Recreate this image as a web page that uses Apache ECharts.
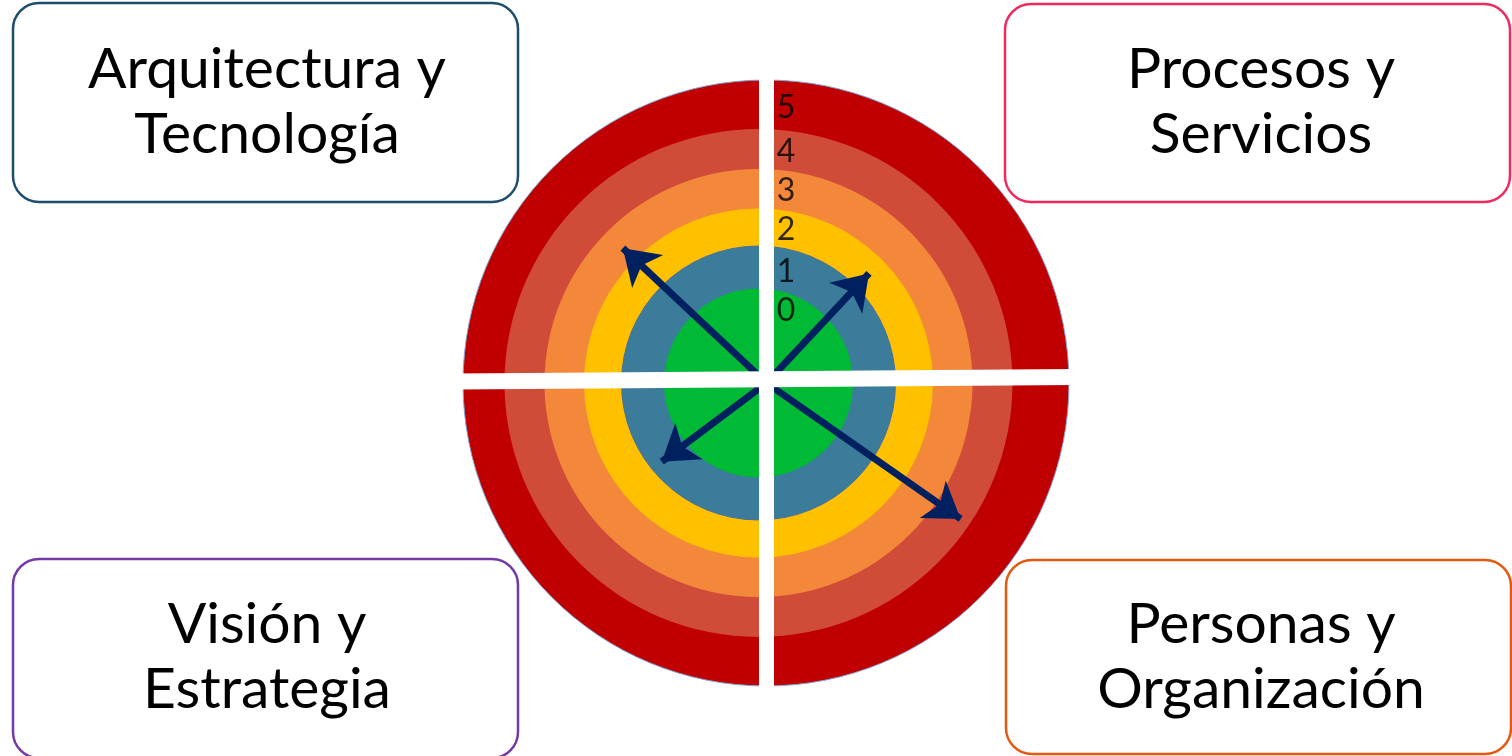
<!DOCTYPE html>
<html>
<head>
<meta charset="utf-8">
<script src="https://cdn.jsdelivr.net/npm/echarts@6/dist/echarts.min.js"></script>
<style>
  html, body { margin: 0; padding: 0; background: #ffffff; }
  #chart { width: 1512px; height: 756px; }
</style>
</head>
<body>
<div id="chart"></div>
<script>
// ---------------- DATA ----------------
const levels = ['0', '1', '2', '3', '4', '5'];
const dimensions = ['Arquitectura y\nTecnología', 'Procesos y\nServicios', 'Visión y\nEstrategia', 'Personas y\nOrganización'];
// arrow direction (degrees, counter-clockwise from east) and reach (radial units, outer rim = 303)
const arrowAngles = [136.8, 46.9, 216.9, 325.0];
const arrowReach = [197, 150, 131, 237];
// radial position of each level tick label (radial units)
const levelTickRadii = [72, 111, 153, 192, 231, 275];

// ---------------- LAYOUT / STYLE ----------------
const R = 303;                       // outer radius in px == radial units
const cx = 766.5, cy = 383;          // arrow / cross centre
const innerCenter = [758.5, 383];    // concentric rings centre
const outerCenter = [766, 383];      // outer red disc centre
const ringOuterRadii = [94.5, 137, 174.5, 214, 254, 303];
const ringColors = ['#00BA35', '#3A7C99', '#FFC000', '#F3883A', '#D14C38', '#C00000'];
const arrowColor = '#002060';
const headSize = 34;
const gapLeftY = 1.5, gapRightY = 6;  // horizontal gap (radial units above centre) at the rim

const boxes = [
  { x: 13, y: 3, w: 505, h: 199, color: '#1D4E6E', tx: 267, ty: 102 },
  { x: 1005, y: 4, w: 505, h: 198, color: '#EE2A5E', tx: 1261, ty: 102 },
  { x: 13, y: 559, w: 505, h: 199, color: '#7439A6', tx: 267, ty: 657 },
  { x: 1006, y: 560, w: 505, h: 194, color: '#E5580F', tx: 1261, ty: 657 }
];

// ---------------- BUILD ----------------
const series = [];
for (let i = levels.length - 1; i >= 0; i--) {
  series.push({
    type: 'pie',
    silent: true,
    animation: false,
    center: i === levels.length - 1 ? outerCenter : innerCenter,
    radius: [0, ringOuterRadii[i]],
    label: { show: false },
    labelLine: { show: false },
    emphasis: { disabled: true },
    itemStyle: {
      color: ringColors[i],
      borderWidth: (i === 5 || i === 1) ? 1 : 0,
      borderColor: i === 5 ? '#7FA8D8' : '#4A6E9E'
    },
    data: [{ name: levels[i], value: 1 }]
  });
}

const rad = d => d * Math.PI / 180;
series.push({
  type: 'lines',
  coordinateSystem: 'cartesian2d',
  silent: true,
  animation: false,
  z: 5,
  symbol: ['none', 'arrow'],
  symbolSize: headSize,
  lineStyle: { color: arrowColor, width: 7, opacity: 1, curveness: 0 },
  data: dimensions.map((name, i) => {
    const a = rad(arrowAngles[i]);
    const r = arrowReach[i];
    return { name: name, coords: [[0, 0], [r * Math.cos(a), r * Math.sin(a)]] };
  })
});

// white quadrant separators
const ext = R + 8;
const slope = (gapRightY - gapLeftY) / (2 * R);
const midY = (gapRightY + gapLeftY) / 2;
series.push({
  type: 'lines',
  coordinateSystem: 'cartesian2d',
  silent: true,
  animation: false,
  z: 10,
  symbol: ['none', 'none'],
  lineStyle: { color: '#ffffff', width: 15, opacity: 1 },
  data: [
    { coords: [[0, -ext], [0, ext]] },
    { coords: [[-ext, midY - slope * ext], [ext, midY + slope * ext]], lineStyle: { width: 16 } }
  ]
});

// level labels
series.push({
  type: 'scatter',
  silent: true,
  animation: false,
  z: 20,
  symbolSize: 1,
  itemStyle: { color: 'rgba(0,0,0,0)' },
  label: {
    show: true,
    position: 'inside',
    formatter: p => levels[p.dataIndex],
    color: '#000000',
    fontFamily: 'Lato',
    fontSize: 32
  },
  data: levels.map((l, i) => [19.5, levelTickRadii[i]])
});

const graphic = [];
boxes.forEach((b, i) => {
  graphic.push({
    type: 'rect',
    shape: { x: b.x, y: b.y, width: b.w, height: b.h, r: 26 },
    style: { fill: '#ffffff', stroke: b.color, lineWidth: 2.5 },
    silent: true
  });
  graphic.push({
    type: 'text',
    x: b.tx,
    y: b.ty,
    silent: true,
    style: {
      text: dimensions[i],
      fill: '#000000',
      font: '57px Lato',
      fontSize: 57,
      fontFamily: 'Lato',
      lineHeight: 65,
      align: 'center',
      verticalAlign: 'middle',
      textAlign: 'center',
      textVerticalAlign: 'middle'
    }
  });
});

const chart = echarts.init(document.getElementById('chart'), null, { renderer: 'canvas' });
chart.setOption({
  backgroundColor: '#ffffff',
  animation: false,
  grid: { left: cx - R, top: cy - R, width: 2 * R, height: 2 * R, containLabel: false },
  xAxis: { type: 'value', min: -R, max: R, show: false },
  yAxis: { type: 'value', min: -R, max: R, show: false },
  series: series,
  graphic: graphic
});
</script>
</body>
</html>
